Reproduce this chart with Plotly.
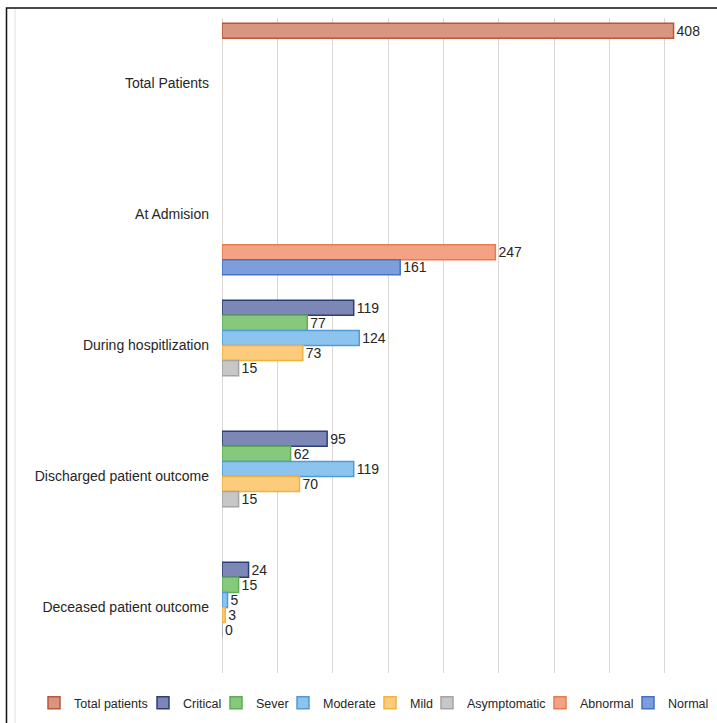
import plotly.graph_objects as go

categories = ["Total Patients", "At Admision", "During hospitlization",
              "Discharged patient outcome", "Deceased patient outcome"]

series_names = ["Total patients", "Critical", "Sever", "Moderate", "Mild",
                "Asymptomatic", "Abnormal", "Normal"]

total_patients = [408, None, None, None, None]
critical = [None, None, 119, 95, 24]
sever = [None, None, 77, 62, 15]
moderate = [None, None, 124, 119, 5]
mild = [None, None, 73, 70, 3]
asymptomatic = [None, None, 15, 15, 0]
abnormal = [None, 247, None, None, None]
normal = [None, 161, None, None, None]

series_values = [total_patients, critical, sever, moderate, mild,
                 asymptomatic, abnormal, normal]

fill_colors = ["#D8957F", "#7D87B5", "#86C97C", "#8CC4EE", "#FDCB7C",
               "#C7C7C7", "#F4A285", "#7D9EDB"]
line_colors = ["#B9553A", "#2E3F78", "#5FAE55", "#4E9ADB", "#F2B33E",
               "#A5A5A5", "#E97A4E", "#4472C4"]
legend_widths = [64, 28, 22, 42, 12, 68, 43, 41]

FONT = "Liberation Sans, Arial, sans-serif"
TXT = "#262626"

fig = go.Figure()
for name, vals, fc, lc, lw in zip(series_names, series_values, fill_colors,
                                  line_colors, legend_widths):
    fig.add_trace(go.Bar(
        y=categories, x=vals, name=name, orientation="h",
        marker=dict(color=fc, line=dict(color=lc, width=1.5)),
        text=["" if v is None else str(v) for v in vals],
        textposition="outside", cliponaxis=False, constraintext="none",
        textfont=dict(family=FONT, size=14, color=TXT),
        legendwidth=lw,
    ))

W, H = 717, 723
ml, mr, mt, mb = 222, 8, 18, 50
pw, ph = W - ml - mr, H - mt - mb


def px_x(p):
    return (p - ml) / pw


def px_y(p):
    return (H - mb - p) / ph


fig.update_layout(
    width=W, height=H,
    margin=dict(l=ml, r=mr, t=mt, b=mb, autoexpand=False),
    paper_bgcolor="white", plot_bgcolor="white",
    barmode="group", bargap=0.08, bargroupgap=0.0,
    font=dict(family=FONT, size=13, color=TXT),
    showlegend=True,
    legend=dict(orientation="h", x=px_x(34), xanchor="left",
                y=px_y(688), yanchor="top", itemwidth=30,
                font=dict(family=FONT, size=12.5, color=TXT),
                bgcolor="rgba(0,0,0,0)", traceorder="normal"),
    xaxis=dict(range=[0, 440], showticklabels=False, ticks="",
               showgrid=True, gridcolor="#DCD6D4", gridwidth=1, dtick=50,
               zeroline=True, zerolinecolor="#DCD6D4", zerolinewidth=1,
               showline=False, fixedrange=True),
    yaxis=dict(type="category", categoryorder="array", categoryarray=categories,
               autorange="reversed", ticks="", showgrid=False, showline=False,
               zeroline=False, ticklabelstandoff=12,
               tickfont=dict(family=FONT, size=14, color=TXT)),
    shapes=[
        dict(type="rect", xref="paper", yref="paper",
             x0=px_x(6.5), x1=px_x(730), y0=px_y(740), y1=px_y(8),
             line=dict(color="#111111", width=1.5), layer="above"),
        dict(type="line", xref="paper", yref="paper",
             x0=px_x(15), x1=px_x(15), y0=px_y(740), y1=px_y(9),
             line=dict(color="#E4E0DE", width=1), layer="above"),
    ],
)

fig.write_html("out.html")
